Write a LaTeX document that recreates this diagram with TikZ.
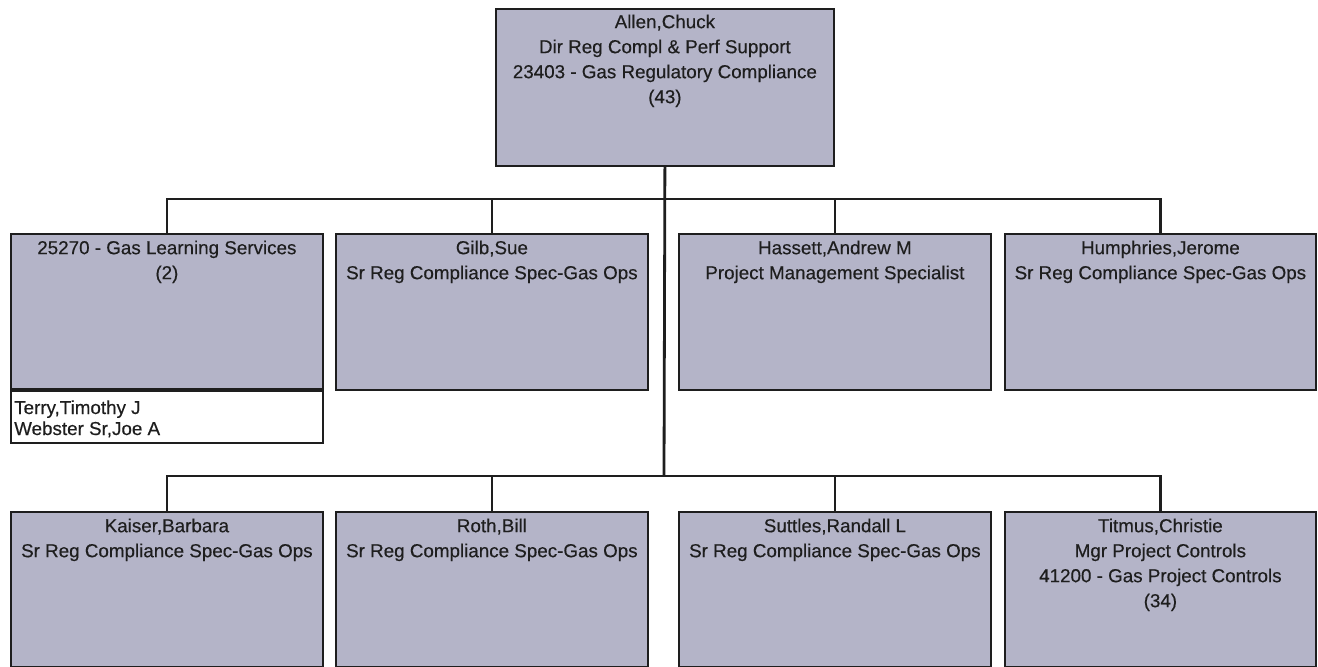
\documentclass[tikz,border=0pt]{standalone}
\usepackage{fontspec}
\setmainfont[FakeBold=0.4]{Liberation Sans}
\definecolor{boxfill}{RGB}{180,180,200}
\definecolor{inkc}{RGB}{30,30,30}
\tikzset{
  orgbox/.style={draw=inkc, line width=1.8pt, fill=boxfill, rectangle, inner sep=0pt, minimum width=312pt, minimum height=156pt, anchor=north west},
  namebox/.style={draw=inkc, line width=1.8pt, fill=white, rectangle, inner sep=0pt, minimum width=312pt, minimum height=52pt, anchor=north},
  txt/.style={inner sep=0pt, align=center, anchor=north, text=inkc, font=\fontsize{18.8}{25}\selectfont},
  ltxt/.style={inner sep=0pt, align=left, anchor=north west, text=inkc, font=\fontsize{18.8}{21}\selectfont},
  conn/.style={draw=inkc, line width=2.8pt}
}
\begin{document}
\begin{tikzpicture}[x=1pt,y=-1pt]
\useasboundingbox (0,0) rectangle (1318,667);
\fill[white] (0,0) rectangle (1318,667);

% top box
\node[orgbox, minimum width=338pt, minimum height=157pt] (top) at (495,8) {};
\node[txt] (ttop) at ([yshift=-2.5pt]top.north) {\strut Allen,Chuck\\Dir Reg Compl \& Perf Support\\23403 - Gas Regulatory Compliance\\(43)};

% junction coordinates
\coordinate (j1) at (664,199);
\coordinate (j2) at (664,476);

% row 1
\node[orgbox, minimum height=155pt] (b1) at (10,233) {};
\node[namebox] (b1w) at (b1.south) {};
\node[orgbox] (b2) at (335,233) {};
\node[orgbox] (b3) at (678,233) {};
\node[orgbox, minimum width=311pt] (b4) at (1004,233) {};

\node[txt] (t1) at ([yshift=-3.5pt]b1.north) {\strut 25270 - Gas Learning Services\\(2)};
\node[ltxt] (t1w) at ([xshift=4pt,yshift=-9.3pt]b1w.north west) {\strut Terry,Timothy J\\Webster Sr,Joe A};
\node[txt] (t2) at ([yshift=-3.5pt]b2.north) {\strut Gilb,Sue\\Sr Reg Compliance Spec-Gas Ops};
\node[txt] (t3) at ([yshift=-3.5pt]b3.north) {\strut Hassett,Andrew M\\Project Management Specialist};
\node[txt] (t4) at ([yshift=-3.5pt]b4.north) {\strut Humphries,Jerome\\Sr Reg Compliance Spec-Gas Ops};

% row 2
\node[orgbox, minimum height=155pt] (b5) at (10,511) {};
\node[orgbox, minimum height=155pt] (b6) at (335,511) {};
\node[orgbox, minimum height=155pt] (b7) at (678,511) {};
\node[orgbox, minimum width=311pt, minimum height=155pt] (b8) at (1004,511) {};

\node[txt] (t5) at ([yshift=-3.5pt]b5.north) {\strut Kaiser,Barbara\\Sr Reg Compliance Spec-Gas Ops};
\node[txt] (t6) at ([yshift=-3.5pt]b6.north) {\strut Roth,Bill\\Sr Reg Compliance Spec-Gas Ops};
\node[txt] (t7) at ([yshift=-3.5pt]b7.north) {\strut Suttles,Randall L\\Sr Reg Compliance Spec-Gas Ops};
\node[txt] (t8) at ([yshift=-3.5pt]b8.north) {\strut Titmus,Christie\\Mgr Project Controls\\41200 - Gas Project Controls\\(34)};

% connectors
\draw[conn] (top.south) -- (j2);
\draw[conn] (b1.north) |- (j1) -| (b4.north);
\draw[conn] (b2.north) -- (b2.north |- j1);
\draw[conn] (b3.north) -- (b3.north |- j1);
\draw[conn] (b5.north) |- (j2) -| (b8.north);
\draw[conn] (b6.north) -- (b6.north |- j2);
\draw[conn] (b7.north) -- (b7.north |- j2);
\end{tikzpicture}
\end{document}
